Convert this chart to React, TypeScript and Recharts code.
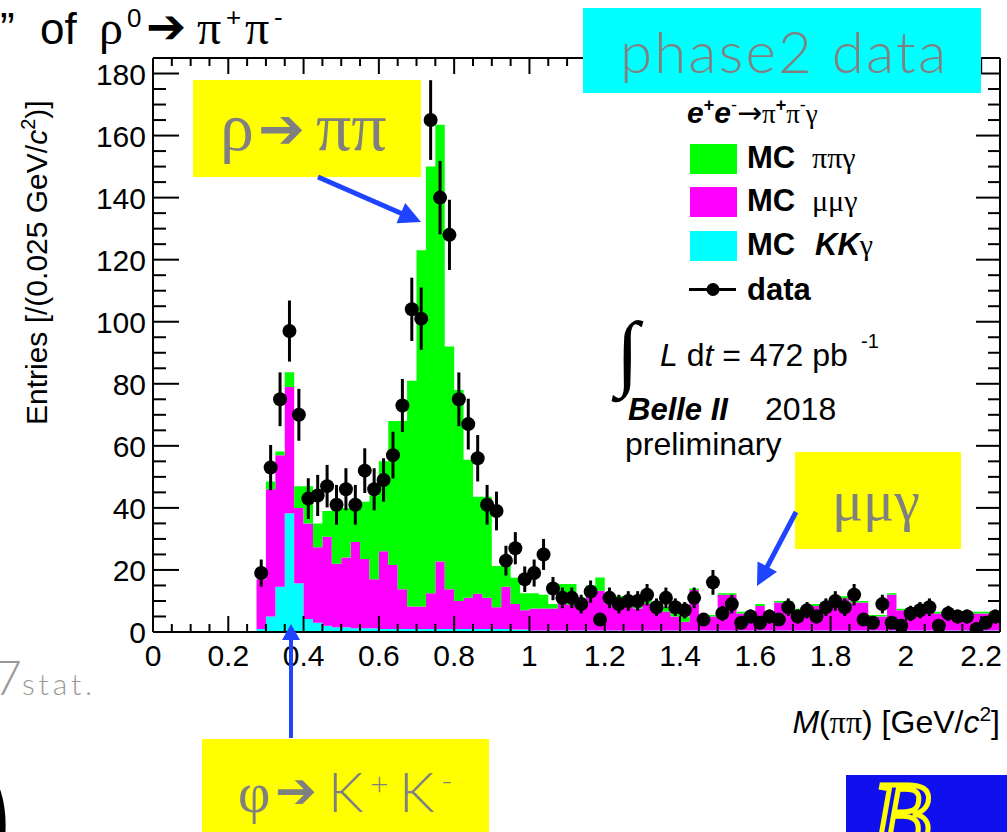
import React from "react";
import { ComposedChart, Area, Scatter, ErrorBar, XAxis, YAxis } from "recharts";

const W = 1007;
const H = 832;

const BIN_WIDTH = 0.025; // GeV/c2, 90 bins from 0 to 2.25

// MC e+e- -> K K gamma (bottom of the stack), entries per bin
const KK_GAMMA = [
  0, 0, 0, 0, 0, 0, 0, 0, 0, 0,
  0, 1, 5, 14.6, 38.3, 15.7, 4.2, 3, 2, 1.5,
  1.5, 1.2, 1.2, 1.2, 1, 1, 1, 1, 1, 1,
  1, 1, 1, 1, 1, 1, 1, 1, 0.8, 0.8,
  0.5, 0.5, 0.5, 0.5, 0.5, 0.5, 0.5, 0.5, 0.5, 0.5,
  0.5, 0.5, 0.5, 0.5, 0.5, 0.5, 0.5, 0.5, 0.5, 0.5,
  0.5, 0.5, 0.5, 0.5, 0.5, 0.5, 0.5, 0.5, 0.5, 0.5,
  0.5, 0.5, 0.5, 0.5, 0.5, 0.5, 0.5, 0.5, 0.5, 0.5,
  0.5, 0.5, 0.5, 0.5, 0.5, 0.5, 0.5, 0.5, 0.5, 0.5,
];

// MC e+e- -> mu mu gamma
const MUMU_GAMMA = [
  0, 0, 0, 0, 0, 0, 0, 0, 0, 0,
  0, 16, 41, 42.4, 40.7, 24.3, 30.8, 24.3, 28.7, 20.5,
  22.5, 27.8, 22.3, 15.8, 25, 20.6, 12.8, 7.2, 7.2, 11.5,
  21.7, 12.8, 9, 10, 11.3, 10, 7, 13.6, 8.2, 6.2,
  7.1, 7.1, 7.1, 8.7, 8.2, 8.2, 12.8, 12.8, 8.7, 9.6,
  9.6, 7.1, 8.7, 6.1, 6.1, 4.5, 2.8, 13, 4.5, 4.5,
  11.5, 11.5, 5.5, 3.5, 7.9, 5.5, 9, 9, 6.6, 6.6,
  7.9, 7.9, 10.4, 10.4, 9, 9, 4.5, 4.5, 11.5, 6.5,
  6.5, 6.5, 7.9, 5.5, 5.5, 5.5, 5.5, 5.5, 5.5, 5.5,
];

// MC e+e- -> pi pi gamma (top of the stack)
const PIPI_GAMMA = [
  0, 0, 0, 0, 0, 0, 0, 0, 0, 0,
  0, 0, 2.5, 1.2, 4.7, 7, 12, 7.7, 8.3, 18,
  16, 12, 18.5, 27, 29, 46.4, 54.2, 72.8, 114.8, 137.5,
  140.8, 78.2, 68, 44.5, 31.3, 32.6, 13.3, 6.7, 8.5, 5.5,
  4.9, 4.4, 1.4, 6.3, 6.8, 2.3, 1.7, 4.3, 1.8, 1.5,
  0.9, 1.4, 1.3, 1.4, 1.4, 1.5, 1.7, 0.5, 0.5, 0.5,
  0.5, 0.5, 0.5, 0.5, 0.6, 0.5, 0.5, 0.5, 0.4, 0.4,
  0.6, 0.6, 0.6, 0.6, 0.5, 0.5, 0.5, 0.5, 0.5, 0.5,
  0.5, 0.5, 0.6, 0.5, 0.5, 0.5, 0.5, 0.5, 0.5, 0.5,
];

// phase2 data, entries per bin (null = empty bin, no marker)
const DATA_COUNTS: (number | null)[] = [
  null, null, null, null, null, null, null, null, null, null,
  null, 19, 53, 75, 97, 70, 43, 44, 47, 41,
  46, 41, 52, 46, 49, 57, 73, 104, 101, 165,
  140, 128, 75, 67, 56, 41, 39, 23, 27, 17,
  19, 25, 14, 11, 11, 9, 13, 4, 11, 9,
  10, 10, 12, 8, 11, 8, 7, 11, 4, 16,
  6, 9, 3, 5, 3, 5, 4, 8, 5, 7,
  5, 8, 10, 8, 12, 4, 3, 9, 3, 2,
  6, 7, 8, 2, 6, 5, 5, 1, 3, 5,
];

const X_LABELS = [0, 0.2, 0.4, 0.6, 0.8, 1, 1.2, 1.4, 1.6, 1.8, 2, 2.2];
const Y_LABELS = [0, 20, 40, 60, 80, 100, 120, 140, 160, 180];
// minor ticks every 0.05 in x and every 5 entries in y
const X_TICKS = Array.from({ length: 45 }, (_, i) => Math.round(i * 5) / 100);
const Y_TICKS = Array.from({ length: 37 }, (_, i) => i * 5);

const X_MAX = 2.25;
const Y_MAX = 185;

// stepAfter rows at the low edge of each bin, plus the closing edge
const histRows = KK_GAMMA.map((_, i) => ({
  x: Math.round(i * BIN_WIDTH * 1000) / 1000,
  kk: KK_GAMMA[i],
  mumu: MUMU_GAMMA[i],
  pipi: PIPI_GAMMA[i],
}));
histRows.push({ ...histRows[histRows.length - 1], x: X_MAX });

const dataPoints = DATA_COUNTS.flatMap((n, i) =>
  n == null ? [] : [{ x: (i + 0.5) * BIN_WIDTH, n, err: Math.sqrt(n) }]
);

const SANS = "'Liberation Sans', Arial, Helvetica, sans-serif";
const SERIF = "'Liberation Serif', 'Times New Roman', serif";
const THIN = "Lato, 'Open Sans', sans-serif";
const SYM = "'DejaVu Sans', sans-serif";
const GRAY = "#808080";
const YELLOW = "#ffff00";
const BLUE = "#1f44ff";

const near = (v: number, list: number[]) => list.some((l) => Math.abs(l - v) < 1e-6);

function BottomTick({ x, y, payload }: any) {
  const major = near(payload.value, X_LABELS);
  return (
    <g>
      <line x1={x} y1={y} x2={x} y2={y - (major ? 16 : 8)} stroke="#000" strokeWidth={2} />
      {major && (
        <text x={x} y={y + 34} textAnchor="middle" fontFamily={SANS} fontSize={30} fill="#000">
          {payload.value}
        </text>
      )}
    </g>
  );
}

function TopTick({ x, y, payload }: any) {
  const major = near(payload.value, X_LABELS);
  return <line x1={x} y1={y} x2={x} y2={y + (major ? 16 : 8)} stroke="#000" strokeWidth={2} />;
}

function LeftTick({ x, y, payload }: any) {
  const major = near(payload.value, Y_LABELS);
  return (
    <g>
      <line x1={x} y1={y} x2={x + (major ? 26 : 13)} y2={y} stroke="#000" strokeWidth={2} />
      {major && (
        <text x={x - 7} y={y + 11} textAnchor="end" fontFamily={SANS} fontSize={30} fill="#000">
          {payload.value}
        </text>
      )}
    </g>
  );
}

function RightTick({ x, y, payload }: any) {
  const major = near(payload.value, Y_LABELS);
  return <line x1={x} y1={y} x2={x - (major ? 24 : 12)} y2={y} stroke="#000" strokeWidth={2} />;
}

function Marker(props: any) {
  if (props.cx == null || props.cy == null) return null;
  return <circle cx={props.cx} cy={props.cy} r={7} fill="#000" />;
}

function Arrow({ x1, y1, x2, y2, w = 5, head = 22, half = 11 }: any) {
  const len = Math.hypot(x2 - x1, y2 - y1);
  const ux = (x2 - x1) / len;
  const uy = (y2 - y1) / len;
  const bx = x2 - ux * head;
  const by = y2 - uy * head;
  return (
    <g>
      <line x1={x1} y1={y1} x2={bx + ux * 2} y2={by + uy * 2} stroke={BLUE} strokeWidth={w} />
      <polygon
        points={`${x2},${y2} ${bx - uy * half},${by + ux * half} ${bx + uy * half},${by - ux * half}`}
        fill={BLUE}
      />
    </g>
  );
}

function Overlay() {
  return (
    <svg width={W} height={H} style={{ position: "absolute", left: 0, top: 0, pointerEvents: "none" }}>
      {/* slide title fragment */}
      <text x={0} y={44} fontFamily={SANS} fontSize={44}>”</text>
      <text x={40} y={44} fontFamily={SANS} fontSize={44}>of</text>
      <text x={99} y={44} fontFamily={SERIF} fontSize={48}>ρ</text>
      <text x={127} y={27} fontFamily={SANS} fontSize={26}>0</text>
      <text x={146} y={43} fontFamily={SYM} fontSize={48} fontWeight="bold">➔</text>
      <text x={197} y={44} fontFamily={SERIF} fontSize={48}>π</text>
      <text x={226} y={26} fontFamily={SANS} fontSize={26}>+</text>
      <text x={245} y={44} fontFamily={SERIF} fontSize={48}>π</text>
      <text x={274} y={26} fontFamily={SANS} fontSize={26}>-</text>

      {/* axis titles */}
      <text transform="translate(47 425) rotate(-90)" fontFamily={SANS} fontSize={30}>
        Entries [/(0.025 GeV/<tspan fontStyle="italic">c</tspan>
        <tspan fontSize={20} dy={-12}>2</tspan>
        <tspan dy={12}>)]</tspan>
      </text>
      <text x={1000} y={733} textAnchor="end" fontFamily={SANS} fontSize={32}>
        <tspan fontStyle="italic">M</tspan>(<tspan fontFamily={SERIF}>ππ</tspan>) [GeV/
        <tspan fontStyle="italic">c</tspan>
        <tspan fontSize={21} dy={-12}>2</tspan>
        <tspan dy={12}>]</tspan>
      </text>

      {/* phase2 data label */}
      <rect x={583} y={8} width={398} height={85} fill="#00ffff" />
      <text x={620} y={73} fontFamily={THIN} fontWeight={300} fontSize={58} fill={GRAY} textLength={326} lengthAdjust="spacing">
        phase2 data
      </text>

      {/* legend */}
      <text x={687} y={123} fontFamily={SANS} fontSize={30}>
        <tspan fontWeight="bold" fontStyle="italic">e</tspan>
        <tspan fontSize={18} fontWeight="bold" dy={-12}>+</tspan>
        <tspan fontWeight="bold" fontStyle="italic" dy={12}>e</tspan>
        <tspan fontSize={18} dy={-12}>-</tspan>
        <tspan fontFamily={SYM} fontSize={30} dy={12}>→</tspan>
        <tspan fontFamily={SERIF} fontSize={27}>π</tspan>
        <tspan fontSize={18} fontWeight="bold" dy={-12}>+</tspan>
        <tspan fontFamily={SERIF} fontSize={27} dy={12}>π</tspan>
        <tspan fontSize={18} dy={-12}>-</tspan>
        <tspan fontFamily={SERIF} fontSize={27} dy={12}>γ</tspan>
      </text>
      <rect x={690} y={144} width={47} height={30} fill="#00ff00" />
      <rect x={690} y={187} width={47} height={30} fill="#ff00ff" />
      <rect x={690} y={231} width={47} height={30} fill="#00ffff" />
      <text x={747} y={168} fontFamily={SANS} fontWeight="bold" fontSize={31}>MC</text>
      <text x={812} y={168} fontFamily={SERIF} fontSize={30}>ππγ</text>
      <text x={747} y={211} fontFamily={SANS} fontWeight="bold" fontSize={31}>MC</text>
      <text x={812} y={211} fontFamily={SERIF} fontSize={30}>μμγ</text>
      <text x={747} y={255} fontFamily={SANS} fontWeight="bold" fontSize={31}>MC</text>
      <text x={815} y={255} fontFamily={SANS} fontWeight="bold" fontStyle="italic" fontSize={31}>
        KK<tspan fontFamily={SERIF} fontWeight="normal" fontStyle="normal" fontSize={30}>γ</tspan>
      </text>
      <line x1={689} y1={289.5} x2={736} y2={289.5} stroke="#000" strokeWidth={3} />
      <circle cx={713} cy={289.5} r={6.5} fill="#000" />
      <text x={747} y={300} fontFamily={SANS} fontWeight="bold" fontSize={31}>data</text>

      <text x={616} y={380} fontFamily={SERIF} fontSize={84}>∫</text>
      <text x={660} y={366} fontFamily={SANS} fontSize={32}>
        <tspan fontStyle="italic">L</tspan> d<tspan fontStyle="italic">t</tspan> = 472 pb
      </text>
      <text x={861} y={348} fontFamily={SANS} fontSize={20}>-1</text>
      <text x={628} y={420} fontFamily={SANS} fontWeight="bold" fontStyle="italic" fontSize={31}>Belle II</text>
      <text x={765} y={420} fontFamily={SANS} fontSize={32}>2018</text>
      <text x={625} y={455} fontFamily={SANS} fontSize={32}>preliminary</text>

      {/* rho annotation */}
      <rect x={193} y={80} width={228} height={97} fill={YELLOW} />
      <text x={220} y={150} fontFamily={SERIF} fontSize={68} fill={GRAY}>ρ</text>
      <text x={258} y={148} fontFamily={SYM} fontSize={56} fontWeight="bold" fill={GRAY}>➔</text>
      <text x={316} y={150} fontFamily={SERIF} fontSize={70} fill={GRAY}>ππ</text>
      <Arrow x1={318} y1={177} x2={421} y2={222} />

      {/* mu mu gamma annotation */}
      <rect x={795} y={452} width={166} height={97} fill={YELLOW} />
      <text x={832} y={520} fontFamily={SERIF} fontSize={58} fill={GRAY}>μμγ</text>
      <Arrow x1={796} y1={512} x2={757} y2={586} />

      {/* phi annotation */}
      <rect x={202} y={739} width={287} height={93} fill={YELLOW} />
      <text x={238} y={812} fontFamily={SERIF} fontSize={56} fill={GRAY}>φ</text>
      <text x={275} y={808} fontFamily={SYM} fontSize={50} fontWeight="bold" fill={GRAY}>➔</text>
      <text x={328} y={812} fontFamily={THIN} fontWeight={300} fontSize={56} fill={GRAY}>K</text>
      <text x={370} y={795} fontFamily={THIN} fontWeight={300} fontSize={32} fill={GRAY}>+</text>
      <text x={399} y={812} fontFamily={THIN} fontWeight={300} fontSize={56} fill={GRAY}>K</text>
      <text x={441} y={792} fontFamily={THIN} fontWeight={300} fontSize={32} fill={GRAY}>-</text>
      <Arrow x1={291} y1={738} x2={291} y2={624} w={4} head={16} half={9} />

      {/* slide fragments */}
      <text x={-6} y={695} fontFamily={THIN} fontWeight={300} fontSize={48} fill="#999">7</text>
      <text x={22} y={695} fontFamily={THIN} fontWeight={300} fontSize={30} fill="#999" textLength={70} lengthAdjust="spacing">stat.</text>
      <text x={-34} y={862} fontFamily={SANS} fontWeight="bold" fontSize={140}>)</text>

      {/* Belle II logo */}
      <rect x={846} y={775} width={161} height={57} fill="#1010ee" />
      <text x={872} y={848} fontFamily={SERIF} fontStyle="italic" fontSize={96} fill="none" stroke="#ffff00" strokeWidth={5}>B</text>
    </svg>
  );
}

export default function App() {
  return (
    <div style={{ position: "absolute", left: 0, top: 0, width: W, height: H, overflow: "hidden", background: "#fff" }}>
      <div style={{ position: "absolute", left: 0, top: 0 }}>
        <ComposedChart
          width={W}
          height={H}
          data={histRows}
          margin={{ top: 50, right: 0, bottom: 170, left: 123 }}
        >
          <Area type="stepAfter" dataKey="kk" stackId="mc" stroke="none" fill="#00ffff" fillOpacity={1} dot={false} activeDot={false} isAnimationActive={false} />
          <Area type="stepAfter" dataKey="mumu" stackId="mc" stroke="none" fill="#ff00ff" fillOpacity={1} dot={false} activeDot={false} isAnimationActive={false} />
          <Area type="stepAfter" dataKey="pipi" stackId="mc" stroke="none" fill="#00ff00" fillOpacity={1} dot={false} activeDot={false} isAnimationActive={false} />
          <Scatter data={dataPoints} dataKey="n" shape={Marker} isAnimationActive={false}>
            <ErrorBar dataKey="err" direction="y" width={0} stroke="#000" strokeWidth={3} isAnimationActive={false} />
          </Scatter>
          <XAxis
            dataKey="x"
            type="number"
            domain={[0, X_MAX]}
            ticks={X_TICKS}
            interval={0}
            allowDataOverflow
            height={30}
            tickSize={0}
            tickMargin={0}
            tickLine={false}
            tick={(p: any) => <BottomTick {...p} />}
            axisLine={{ stroke: "#000", strokeWidth: 2 }}
          />
          <XAxis
            xAxisId="top"
            dataKey="x"
            orientation="top"
            type="number"
            domain={[0, X_MAX]}
            ticks={X_TICKS}
            interval={0}
            allowDataOverflow
            height={8}
            tickSize={0}
            tickMargin={0}
            tickLine={false}
            tick={(p: any) => <TopTick {...p} />}
            axisLine={{ stroke: "#000", strokeWidth: 2 }}
          />
          <YAxis
            type="number"
            domain={[0, Y_MAX]}
            ticks={Y_TICKS}
            interval={0}
            allowDataOverflow
            width={30}
            tickSize={0}
            tickMargin={0}
            tickLine={false}
            tick={(p: any) => <LeftTick {...p} />}
            axisLine={{ stroke: "#000", strokeWidth: 2 }}
          />
          <YAxis
            yAxisId="right"
            orientation="right"
            type="number"
            domain={[0, Y_MAX]}
            ticks={Y_TICKS}
            interval={0}
            allowDataOverflow
            width={7}
            tickSize={0}
            tickMargin={0}
            tickLine={false}
            tick={(p: any) => <RightTick {...p} />}
            axisLine={{ stroke: "#000", strokeWidth: 2 }}
          />
        </ComposedChart>
      </div>
      <Overlay />
    </div>
  );
}
